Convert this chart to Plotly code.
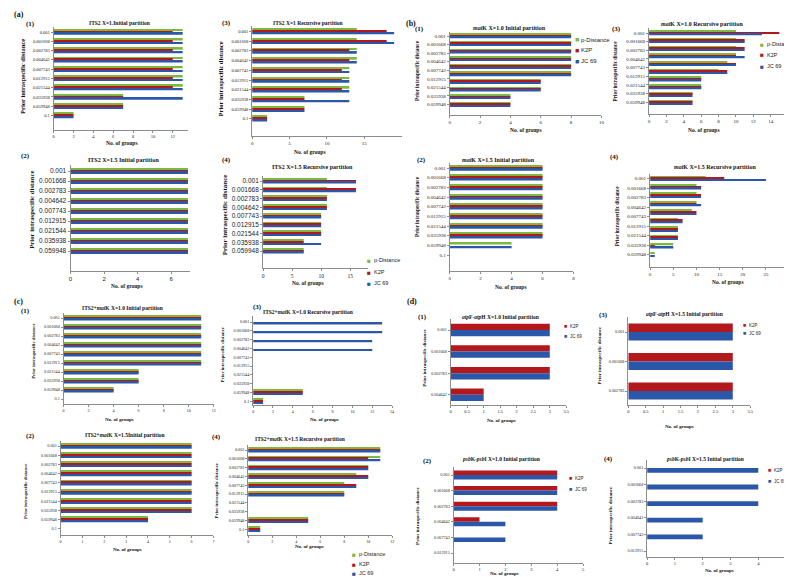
import plotly.graph_objects as go

W, H = 792, 577
GREEN, RED, BLUE = '#7FB83E', '#B3181D', '#2A57A8'
AX = '#8C8C8C'
SERIF = 'Liberation Serif'
SANS = 'Liberation Sans'

# ---------------- data ----------------
distances = ["0.001", "0.001668", "0.002783", "0.004642", "0.007743",
             "0.012915", "0.021544", "0.035938", "0.059948", "0.1"]
series_names = ["p-Distance", "K2P", "JC 69"]

# (a) ITS2
a1_p = [13, 13, 13, 13, 13, 13, 13, 7, 7, 2]
a1_k = [12, 12, 12, 12, 12, 12, 12, 7, 7, 2]
a1_j = [13, 13, 13, 13, 13, 13, 13, 13, 7, 2]
a3_p = [14, 14, 14, 14, 13, 13, 13, 7, 7, 2]
a3_k = [18, 18, 13, 13, 12, 12, 12, 7, 7, 2]
a3_j = [19, 19, 14, 14, 13, 13, 13, 13, 7, 2]
a2_p = [7, 7, 7, 7, 7, 7, 7, 7, 7]
a2_k = [7, 7, 7, 7, 7, 7, 7, 7, 7]
a2_j = [7, 7, 7, 7, 7, 7, 7, 7, 7]
a4_p = [11, 11, 11, 11, 10, 10, 10, 7, 7]
a4_k = [16, 16, 11, 11, 10, 10, 10, 7, 7]
a4_j = [16, 16, 11, 11, 10, 10, 10, 10, 7]

# (b) matK
b1_p = [8, 8, 8, 8, 8, 8, 6, 6, 4, 4]
b1_k = [8, 8, 8, 8, 8, 8, 6, 6, 4, 4]
b1_j = [8, 8, 8, 8, 8, 8, 6, 6, 4, 4]
b3_p = [10, 10, 10, 10, 9, 8, 6, 6, 5, 5]
b3_k = [15, 11, 11, 10, 10, 9, 6, 6, 5, 5]
b3_j = [13, 11, 11, 11, 10, 9, 6, 6, 5, 5]
b2_p = [6, 6, 6, 6, 6, 6, 6, 6, 4, 0]
b2_k = [6, 6, 6, 6, 6, 6, 6, 6, 0, 0]
b2_j = [6, 6, 6, 6, 6, 6, 6, 6, 4, 0]
b4_p = [12, 10, 10, 10, 9, 6, 6, 6, 5, 1]
b4_k = [16, 11, 11, 10, 10, 7, 6, 6, 1, 0]
b4_j = [25, 11, 11, 11, 10, 7, 6, 6, 5, 1]

# (c) ITS2+matK
c1_p = [11, 11, 11, 11, 11, 11, 6, 6, 4, 0]
c1_k = [11, 11, 11, 11, 11, 11, 6, 6, 4, 0]
c1_j = [11, 11, 11, 11, 11, 11, 6, 6, 4, 0]
c3_p = [0, 0, 0, 0, 0, 0, 0, 0, 5, 1]
c3_k = [0, 0, 0, 0, 0, 0, 0, 0, 5, 1]
c3_j = [13, 13, 12, 12, 0, 0, 0, 0, 5, 1]
c2_p = [6, 6, 6, 6, 6, 6, 6, 6, 4, 0]
c2_k = [6, 6, 6, 6, 6, 6, 6, 6, 4, 0]
c2_j = [6, 6, 6, 6, 6, 6, 6, 6, 4, 0]
c4_p = [11, 11, 10, 9, 8, 8, 0, 0, 5, 1]
c4_k = [11, 10, 10, 10, 9, 8, 0, 0, 5, 1]
c4_j = [11, 11, 10, 10, 9, 8, 0, 0, 5, 1]

# (d) atpF-atpH and psbK-psbI
d1_k = [3, 3, 3, 1]
d1_j = [3, 3, 3, 1]
d3_k = [3, 3, 3]
d3_j = [3, 3, 3]
d2_k = [4, 4, 4, 1, 0, 0]
d2_j = [4, 4, 4, 2, 2, 0]
d4_k = [0, 0, 0, 0, 0, 0]
d4_j = [4, 4, 4, 2, 2, 0]

# ---------------- panel layout (pixels) ----------------
P3 = lambda p, k, j: [(p, GREEN, series_names[0]), (k, RED, series_names[1]), (j, BLUE, series_names[2])]
P2 = lambda k, j: [(k, RED, series_names[1]), (j, BLUE, series_names[2])]

panels = [
    dict(series=P3(a1_p, a1_k, a1_j), cats=distances, x0=44, ppu=10, xmax=13.5, tmax=12, dt=2,
         c0=24, s=9.28, T=19, B=122, cf=(SERIF, 4.5), tf=(SERIF, 4.5), spread=False),
    dict(series=P3(a3_p, a3_k, a3_j), cats=distances, x0=244, ppu=7.53, xmax=20, tmax=15, dt=5,
         c0=23.5, s=9.7, T=18, B=128, cf=(SERIF, 4.5), tf=(SERIF, 5), spread=False),
    dict(series=P3(a2_p, a2_k, a2_j), cats=distances[:9], x0=61, ppu=16.9, xmax=7.1, tmax=6, dt=2,
         c0=163, s=10, T=157, B=263, cf=(SANS, 6.5), tf=(SANS, 6), spread=False),
    dict(series=P3(a4_p, a4_k, a4_j), cats=distances[:9], x0=255, ppu=5.85, xmax=18, tmax=15, dt=5,
         c0=173, s=8.75, T=168, B=260, cf=(SANS, 6.5), tf=(SERIF, 5.5), spread=False),
    dict(series=P3(b1_p, b1_k, b1_j), cats=distances[:9], x0=443, ppu=15.3, xmax=10, tmax=10, dt=2,
         c0=28, s=7.6, T=24, B=107, cf=(SERIF, 5), tf=(SERIF, 5), spread=True),
    dict(series=P3(b3_p, b3_k, b3_j), cats=distances[:9], x0=644, ppu=8.75, xmax=16, tmax=16, dt=2,
         c0=25, s=7.7, T=20, B=106, cf=(SERIF, 5), tf=(SERIF, 5), spread=True),
    dict(series=P3(b2_p, b2_k, b2_j), cats=distances, x0=443, ppu=15.6, xmax=8, tmax=8, dt=2,
         c0=160, s=9.67, T=155, B=263, cf=(SERIF, 5), tf=(SERIF, 5), spread=False),
    dict(series=P3(b4_p, b4_k, b4_j), cats=distances[:9], x0=645, ppu=4.67, xmax=30, tmax=30, dt=5,
         c0=170.5, s=8.45, T=166, B=259, cf=(SERIF, 5), tf=(SERIF, 5), spread=True),
    dict(series=P3(c1_p, c1_k, c1_j), cats=distances, x0=54, ppu=12.6, xmax=12, tmax=12, dt=2,
         c0=310, s=9, T=305, B=396, cf=(SERIF, 4.2), tf=(SERIF, 4), spread=False),
    dict(series=P3(c3_p, c3_k, c3_j), cats=distances, x0=245, ppu=10, xmax=14, tmax=14, dt=2,
         c0=314, s=8.8, T=308, B=397, cf=(SERIF, 4.2), tf=(SERIF, 4), spread=False),
    dict(series=P3(c2_p, c2_k, c2_j), cats=distances, x0=51, ppu=22, xmax=7, tmax=7, dt=1,
         c0=438, s=9.2, T=433, B=527, cf=(SERIF, 4.2), tf=(SERIF, 4), spread=False),
    dict(series=P3(c4_p, c4_k, c4_j), cats=distances, x0=240, ppu=12.1, xmax=12, tmax=12, dt=2,
         c0=442, s=8.8, T=437, B=527, cf=(SERIF, 4.2), tf=(SERIF, 4), spread=False),
    dict(series=P2(d1_k, d1_j), cats=distances[:4], x0=444, ppu=33.3, xmax=3.5, tmax=3.5, dt=0.5,
         c0=322, s=21.6, T=311, B=397, cf=(SERIF, 4.2), tf=(SERIF, 4.5), spread=False),
    dict(series=P2(d3_k, d3_j), cats=distances[:3], x0=623, ppu=35.1, xmax=3.5, tmax=3.5, dt=0.5,
         c0=324, s=29.5, T=309, B=397, cf=(SERIF, 4.2), tf=(SERIF, 4.5), spread=False),
    dict(series=P2(d2_k, d2_j), cats=distances[:6], x0=447, ppu=26.1, xmax=5, tmax=5, dt=1,
         c0=467, s=15.6, T=459, B=555, cf=(SERIF, 4.2), tf=(SERIF, 4.5), spread=False),
    dict(series=P2(d4_k, d4_j), cats=distances[:6], x0=642, ppu=28, xmax=5, tmax=5, dt=1,
         c0=460, s=16.6, T=452, B=549, cf=(SERIF, 4.2), tf=(SERIF, 4.5), spread=False),
]

fig = go.Figure()
layout = {}
for i, p in enumerate(panels, start=1):
    xn = 'x' if i == 1 else f'x{i}'
    yn = 'y' if i == 1 else f'y{i}'
    n = len(p['series'][0][0])
    rows = list(range(n))
    for vals, color, name in p['series']:
        fig.add_trace(go.Bar(x=vals, y=rows, orientation='h', name=name,
                             marker=dict(color=color, line=dict(width=0)),
                             xaxis=xn, yaxis=yn, showlegend=False, hoverinfo='x+name'))
    ncat = len(p['cats'])
    if p['spread']:
        tv = [k * (n - 1) / (ncat - 1) for k in range(ncat)]
    else:
        tv = rows[:ncat]
    tvx = []
    v = 0.0
    while v <= p['tmax'] + 1e-9:
        tvx.append(round(v, 2))
        v += p['dt']
    xr = p['x0'] + p['ppu'] * p['xmax']
    layout['xaxis' if i == 1 else f'xaxis{i}'] = dict(
        domain=[p['x0'] / W, xr / W], range=[0, p['xmax']], anchor=yn,
        tickmode='array', tickvals=tvx, showline=True, linecolor=AX, linewidth=1,
        ticks='outside', ticklen=2, tickcolor=AX, showgrid=False, zeroline=False,
        tickfont=dict(family=p['tf'][0], size=p['tf'][1], color='#222'), fixedrange=True)
    layout['yaxis' if i == 1 else f'yaxis{i}'] = dict(
        domain=[1 - p['B'] / H, 1 - p['T'] / H],
        range=[(p['B'] - p['c0']) / p['s'], (p['T'] - p['c0']) / p['s']], anchor=xn,
        tickmode='array', tickvals=tv, ticktext=p['cats'], showline=True, linecolor=AX,
        linewidth=1, ticks='outside', ticklen=2, tickcolor=AX, showgrid=False, zeroline=False,
        tickfont=dict(family=p['cf'][0], size=p['cf'][1], color='#222'),
        fixedrange=True)

ann = []


def txt(x, y, s, size, bold=True, angle=0, family=SERIF, xanchor='center', color='#111'):
    t = f'<b>{s}</b>' if bold else s
    ann.append(dict(x=x / W, y=1 - y / H, xref='paper', yref='paper', text=t, showarrow=False,
                    textangle=angle, xanchor=xanchor, yanchor='middle', borderpad=0,
                    font=dict(family=family, size=size, color=color)))


# section letters
for s_, x, y in [('(a)', 9, 6), ('(b)', 404, 15), ('(c)', 9, 293), ('(d)', 405, 293)]:
    txt(x, y, s_, 8)
# panel numbers
for s_, x, y in [('(1)', 21, 16), ('(3)', 218, 15), ('(2)', 16, 148), ('(4)', 218, 152),
                 ('(1)', 413, 21), ('(3)', 611, 21), ('(2)', 415, 152), ('(4)', 609, 149),
                 ('(1)', 16, 303), ('(3)', 249, 299), ('(2)', 21, 428), ('(4)', 208, 429),
                 ('(1)', 416, 309), ('(3)', 598, 307), ('(2)', 421, 453), ('(4)', 603, 451)]:
    txt(x, y, s_, 7)

# titles
titles = [
    ('ITS2 X=1.Initial partition', 110, 15, 5.5),
    ('ITS2 X=1 Recursive partition', 300, 15, 5.5),
    ('ITS2 X=1.5 Initial partition', 114, 152, 6),
    ('ITS2 X=1.5 Recursive partition', 305, 159, 6),
    ('<i>mat</i>K X=1.0 Initial partition', 503, 20, 6),
    ('<i>mat</i>K X=1.0 Recursive partition', 697, 16, 6),
    ('<i>mat</i>K X=1.5 Initial partition', 492, 152, 6),
    ('<i>mat</i>K X=1.5 Recursive partition', 710, 159, 6),
    ('ITS2+<i>mat</i>K X=1.0 Initial partition', 113, 300, 5.5),
    ('ITS2+<i>mat</i>K X=1.0 Recursive partition', 300, 304, 5.5),
    ('ITS2+<i>mat</i>K X=1.5Initial partition', 115, 427, 5.5),
    ('ITS2+<i>mat</i>K X=1.5 Recursive partition', 292, 431, 5.5),
    ('<i>atp</i>F-<i>atp</i>H X=1.0 Initial partition', 494, 309, 5.5),
    ('<i>atp</i>F-<i>atp</i>H X=1.5 Initial partition', 680, 306, 5.5),
    ('<i>psb</i>K-<i>psb</i>I X=1.0 Initial partition', 495, 451, 5.5),
    ('<i>psb</i>K-<i>psb</i>I X=1.5 Initial partition', 700, 451, 5.5),
]
for s_, x, y, sz in titles:
    txt(x, y, s_, sz)

# y-axis titles
YT = 'Prior intraspecific distance'
for x, y, sz in [(12, 68, 6.5), (213, 71, 6.5), (22, 202, 6.8), (217, 207, 7),
                 (410, 62, 5.2), (610, 63, 5.2), (410, 198, 5.2), (612, 208, 5.2),
                 (23, 343, 4.8), (214, 347, 4.8), (15, 483, 4.8), (208, 483, 4.8),
                 (417, 350, 5), (593, 348, 5), (410, 508, 5), (605, 507, 5)]:
    txt(x, y, YT, sz, angle=-90)

# x-axis titles
XT = 'No. of groups'
for x, y, sz in [(113, 135, 5.5), (302, 144, 5.5), (118, 278, 5.5), (300, 275, 5.5),
                 (520, 122, 5.5), (699, 122, 5.5), (505, 279, 5.5), (723, 274, 5.5),
                 (110, 411, 5), (317, 411, 5), (118, 541, 5), (302, 538, 5),
                 (495, 412, 5), (675, 418, 5), (498, 565, 5), (715, 562, 5)]:
    txt(x, y, XT, sz)


# legends
def legend(x, ys, items, size):
    for (name, color), y in zip(items, ys):
        txt(x, y, '■', size + 1, bold=False, family=SANS, color=color)
        txt(x + 3.5, y, name, size, bold=False, family=SANS, xanchor='left', color='#222')


L3 = list(zip(series_names, [GREEN, RED, BLUE]))
L2 = list(zip(series_names[1:], [RED, BLUE]))
legend(362, [252, 264, 275], L3, 5.5)
legend(571, [32, 42, 53], L3, 6)
legend(758, [36, 47, 58], L3, 5.5)
legend(347, [546, 556, 565], L3, 5.5)
legend(560, [318, 328], L2, 4.5)
legend(740, [317, 325], L2, 4.5)
legend(565, [470, 481], L2, 4.5)
legend(765, [462, 473], L2, 4.5)

fig.update_layout(width=W, height=H, margin=dict(l=0, r=0, t=0, b=0),
                  paper_bgcolor='white', plot_bgcolor='white', barmode='group',
                  bargap=0.42, bargroupgap=0, annotations=ann, showlegend=False, **layout)
fig.write_html('out.html', config={'displayModeBar': False})
